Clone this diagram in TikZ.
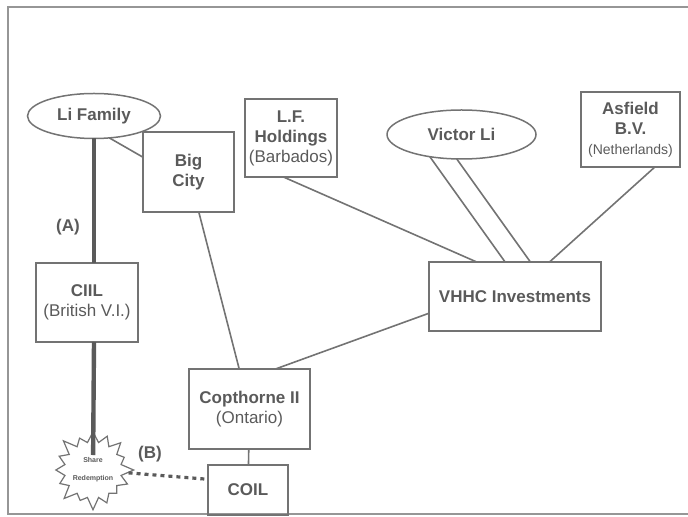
\documentclass[tikz,border=0pt]{standalone}
\usepackage{fontspec}
\setmainfont{Liberation Sans}
\usetikzlibrary{positioning,shapes.geometric,shapes.symbols}
\definecolor{inkgray}{RGB}{90,90,90}
\definecolor{linegray}{RGB}{115,115,115}
\definecolor{framegray}{RGB}{150,150,150}
\newcommand{\juris}[1]{{\mdseries #1}}

\begin{document}
\begin{tikzpicture}[x=0.5pt,y=-0.5pt,
  every node/.style={text=inkgray,font=\fontsize{8.5}{10}\selectfont\bfseries},
  box/.style={draw=linegray,line width=0.75pt,inner sep=0pt,outer sep=0pt,align=center},
  oval/.style={ellipse,draw=linegray,line width=0.75pt,inner sep=0pt,outer sep=0pt},
  link/.style={draw=linegray,line width=0.8pt},
  owner/.style={draw=inkgray,line width=2.2pt}]
  \useasboundingbox (0,0) rectangle (688,517);
  % outer frame, open on the right
  \draw[framegray,line width=0.8pt] (700,7) -- (8,7) -- (8,514) -- (700,514);

  \node[oval,minimum width=66.5pt,minimum height=22.5pt] (lifam) at (94,116) {Li Family};
  \node[box,minimum width=45.5pt,minimum height=40pt] (bigcity) at (188.5,172) {Big\\City};
  \node[box,minimum width=46pt,minimum height=39pt] (lfhold) at (291,138) {L.F.\\Holdings\\\juris{(Barbados)}};
  \node[oval,minimum width=74.5pt,minimum height=24.5pt] (victor) at (461.5,134.5) {Victor Li};
  \node[box,minimum width=49.5pt,minimum height=37.5pt] (asfield) at (630.5,129.5) {Asfield\\B.V.\\\juris{\fontsize{7}{10}\selectfont(Netherlands)}};
  \node[box,minimum width=86pt,minimum height=34.5pt] (vhhc) at (515,296.5) {VHHC Investments};
  \node[box,minimum width=51pt,minimum height=39.5pt] (ciil) at (87,302.5) {CIIL\\\juris{(British V.I.)}};
  \node[box,minimum width=60.5pt,minimum height=40pt] (copth) at (249.5,409) {Copthorne II\\\juris{(Ontario)}};
  \node[box,minimum width=40pt,minimum height=25pt] (coil) at (248,490) {COIL};
  \node[starburst,draw=linegray,fill=white,line width=0.6pt,starburst points=16,
    starburst point height=7pt,minimum width=27pt,minimum height=42pt,inner sep=0pt,
    align=center,font=\fontsize{3.5}{9}\selectfont\bfseries] (star) at (93,470) {Share\\Redemption};
  \node (lbla) at (68,227) {(A)};
  \node (lblb) at (150,454) {(B)};

  % holdings
  \draw[link] (lifam.-55) -- (bigcity.162);
  \draw[link] (bigcity) -- (copth);
  \draw[link] (copth.57) -- (vhhc.191);
  \draw[link] (copth) -- (coil);
  \draw[link] (lfhold.-101) -- (vhhc.138);
  \draw[link] (victor.215) -- (vhhc.106);
  \draw[link] (victor.259) -- (vhhc.66);
  \draw[link] (asfield.-57) -- (vhhc.45);
  % (A) and (B)
  \draw[owner] (lifam.south) -- (ciil.north -| lifam.south);
  \draw[owner,shorten >=7.5pt] (ciil.south -| lifam.south) -- (star.center);
  \draw[inkgray,line width=1.6pt,dash pattern=on 2pt off 2pt] (star) -- (coil.165);
\end{tikzpicture}
\end{document}
